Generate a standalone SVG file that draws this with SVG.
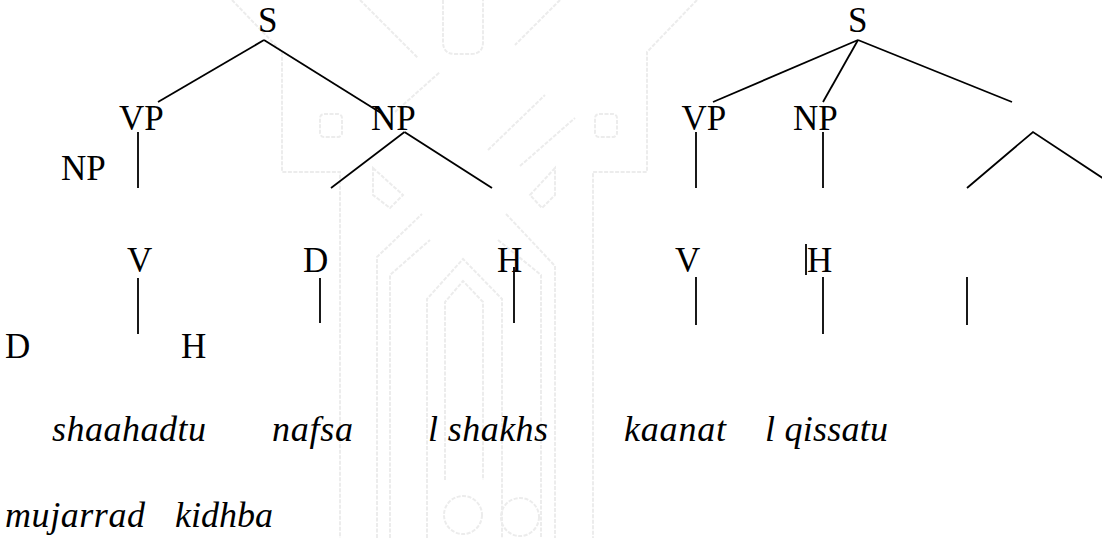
<svg xmlns="http://www.w3.org/2000/svg" width="1102" height="538" viewBox="0 0 1102 538">
  <style>
    .cat { font-family: "Liberation Serif", "Times New Roman", serif; font-size: 35px; fill: #000; }
    .word { font-family: "Liberation Serif", "Times New Roman", serif; font-size: 36px; font-style: italic; fill: #000; }
    .edge { stroke: #000; stroke-width: 1.8; fill: none; }
    .mark { stroke: #ececec; stroke-width: 2; fill: none; stroke-dasharray: 4 1.5; }
  </style>

  <rect width="1102" height="538" fill="#fff"/>

  <!-- faint emblem in the background -->
  <g id="emblem" class="mark">
    <path d="M232,0 L282,52 V172 H340 V538"/>
    <path d="M697,0 L647,52 V172 H593 V538"/>
    <path d="M377,538 V257 L422,214"/>
    <path d="M506,214 L555,266 V538"/>
    <path d="M390,538 V275 L430,240"/>
    <path d="M498,240 L541,275 V538"/>
    <path d="M427,538 V299 L463,259 L502,299 V538"/>
    <path d="M445,480 V302 L463,281 L483,302 V480"/>
    <circle cx="463" cy="515" r="19"/>
    <circle cx="520" cy="517" r="19"/>
    <rect x="320" y="114" width="22" height="23" rx="4"/>
    <rect x="595" y="114" width="22" height="23" rx="4"/>
    <path d="M443,0 V42 Q443,54 455,54 H471 Q483,54 483,42 V0"/>
    <path d="M373,168 L403,195 L390,208 L373,195 Z"/>
    <path d="M555,168 L530,195 L542,208 L555,195 Z"/>
    <path d="M360,0 L418,58"/>
    <path d="M395,112 L440,72"/>
    <path d="M488,150 L545,95"/>
    <path d="M520,166 L575,118"/>
    <path d="M560,0 L515,45"/>
  </g>

  <!-- connectors of both trees -->
  <g id="connectors" class="edge">
    <path d="M264,40 L158,102"/>
    <path d="M264,40 L381,113"/>
    <path d="M138,132 V188"/>
    <path d="M404.5,132 L331,188"/>
    <path d="M404.5,132 L492,188"/>
    <path d="M138,278 V334"/>
    <path d="M320,278 V323"/>
    <path d="M514,267 V323"/>

    <path d="M858,40 L713,102"/>
    <path d="M858,40 L823,102"/>
    <path d="M858,40 L1012,102"/>
    <path d="M696,132 V188"/>
    <path d="M823,132 V188"/>
    <path d="M967,188 L1033,132 L1110,183"/>
    <path d="M696,277 V325"/>
    <path d="M823,277 V334"/>
    <path d="M967,277 V325"/>
    <path d="M806,244 V275"/>
  </g>

  <!-- first tree -->
  <g id="s1"><text class="cat" x="258" y="32">S</text></g>
  <g id="vp1"><text class="cat" x="119" y="130">VP</text></g>
  <g id="np1"><text class="cat" x="371" y="130">NP</text></g>
  <g id="np1b"><text class="cat" x="61" y="180">NP</text></g>
  <g id="v1"><text class="cat" x="127" y="272">V</text></g>
  <g id="d1"><text class="cat" x="303" y="272">D</text></g>
  <g id="h1"><text class="cat" x="497" y="272">H</text></g>
  <g id="d1b"><text class="cat" x="5" y="358">D</text></g>
  <g id="h1b"><text class="cat" x="181" y="358">H</text></g>

  <!-- second tree -->
  <g id="s2"><text class="cat" x="848" y="32">S</text></g>
  <g id="vp2"><text class="cat" x="681.5" y="130">VP</text></g>
  <g id="np2"><text class="cat" x="793" y="130">NP</text></g>
  <g id="v2"><text class="cat" x="675" y="272">V</text></g>
  <g id="h2"><text class="cat" x="807" y="272">H</text></g>

  <!-- transliterated words -->
  <g id="words">
    <text class="word" x="52" y="441" textLength="154" lengthAdjust="spacing">shaahadtu</text>
    <text class="word" x="272" y="441" textLength="81" lengthAdjust="spacing">nafsa</text>
    <text class="word" x="428" y="441" textLength="120" lengthAdjust="spacing">l shakhs</text>
    <text class="word" x="624" y="441" textLength="102" lengthAdjust="spacing">kaanat</text>
    <text class="word" x="765" y="441" textLength="123" lengthAdjust="spacing">l qissatu</text>
    <text class="word" x="5" y="527" textLength="140" lengthAdjust="spacing">mujarrad</text>
    <text class="word" x="175" y="527" textLength="98" lengthAdjust="spacing">kidhba</text>
  </g>
</svg>
